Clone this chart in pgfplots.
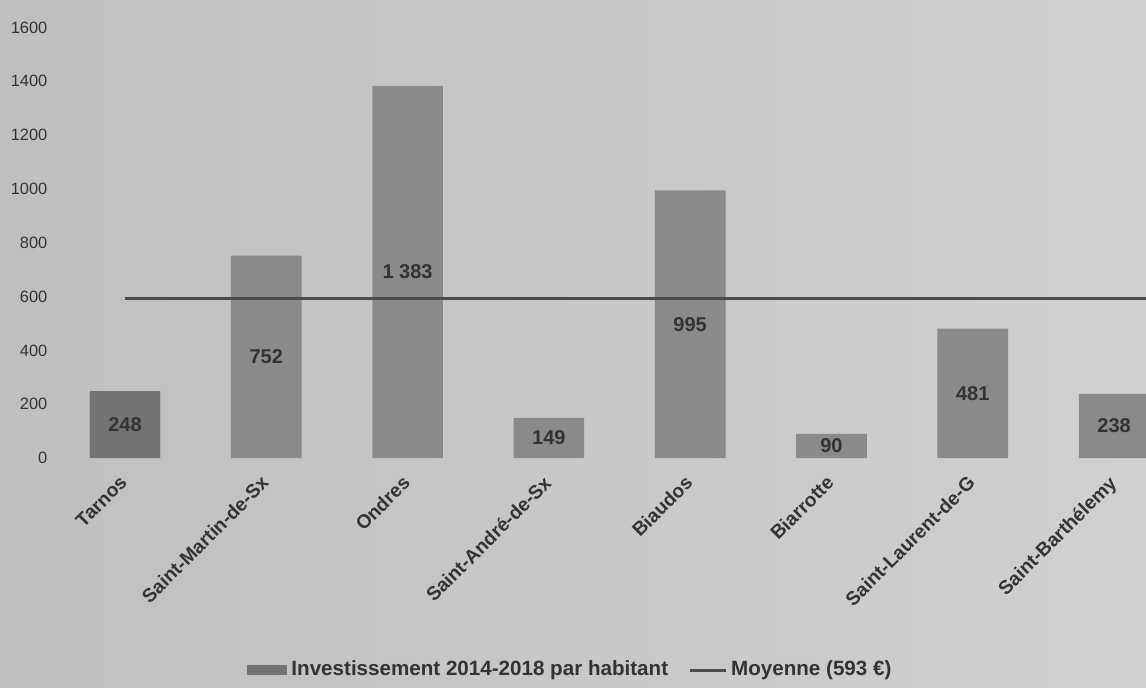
\documentclass[border=0pt]{standalone}
\usepackage{pgfplots}
\pgfplotsset{compat=1.18}
\usepackage{pgfplotstable}
\usepackage{fontspec}
\setmainfont{Liberation Sans}

% paper tones and inks
\definecolor{bgl}{HTML}{BFBFBF}
\definecolor{bgr}{HTML}{D0D0D0}
\definecolor{barc}{HTML}{8A8A8A}
\definecolor{tarnosc}{HTML}{737373}
\definecolor{linec}{HTML}{4C4C4C}
\definecolor{inkc}{HTML}{333333}

% investment 2014-2018 per inhabitant (euros)
\pgfplotstableread{
x v
0 248
1 752
2 1383
3 149
4 995
5 90
6 481
7 238
}\invest

\begin{document}
\begin{tikzpicture}
\shade[left color=bgl, right color=bgr]
  (0,0) rectangle (573pt,343.5pt);
\begin{axis}[
  at={(27.17pt,114.5pt)}, anchor=south west,
  scale only axis, width=545.83pt, height=229pt,
  xmin=-0.5, xmax=7.226, ymin=0, ymax=1702,
  axis line style={draw=none}, tick style={draw=none},
  /pgf/number format/assume math mode=true,
  ytick={0,200,...,1600},
  scaled y ticks=false,
  yticklabel style={font=\fontsize{8.2}{9}\selectfont, text=inkc,
    /pgf/number format/1000 sep={}},
  xtick={0,...,7},
  xticklabels={Tarnos, Saint-Martin-de-Sx, Ondres, Saint-André-de-Sx,
    Biaudos, Biarrotte, Saint-Laurent-de-G, Saint-Barthélemy},
  xticklabel style={rotate=45, anchor=north east, inner sep=0pt,
    font=\bfseries\fontsize{9.6}{11}\selectfont, text=inkc,
    xshift=-7.9pt, yshift=-3.4pt},
  legend style={at={(0.4737,-0.4629)}, anchor=center, draw=none, fill=none,
    font=\bfseries\fontsize{10.3}{12}\selectfont, text=inkc,
    legend columns=2,
    /tikz/every even column/.append style={column sep=8pt}},
]
\addplot[ybar, bar width=0.5, bar shift=0pt, fill=barc, draw=none,
  legend image code/.code={\fill[tarnosc] (0pt,-2.3pt) rectangle (20pt,2.3pt);}]
  table[x=x, y=v] {\invest};
\addlegendentry{Investissement 2014-2018 par habitant}
\addplot[ybar, bar width=0.5, bar shift=0pt, fill=tarnosc, draw=none,
  forget plot, restrict x to domain=-0.1:0.1]
  table[x=x, y=v] {\invest};
\addplot[linec, line width=1.5pt, mark=none,
  legend image code/.code={\draw[linec, line width=1.5pt] (0pt,0pt) -- (18pt,0pt);}]
  coordinates {(0,593) (7.6,593)};
\addlegendentry{Moyenne (593 €)}
% value labels sit halfway up each bar
\addplot[draw=none, mark=none, forget plot,
  point meta=explicit,
  nodes near coords={\pgfmathprintnumber[1000 sep={\ }]{\pgfplotspointmeta}},
  every node near coord/.append style={anchor=center, text=inkc,
    font=\bfseries\fontsize{10}{12}\selectfont}]
  table[x=x, y expr=\thisrow{v}/2, meta=v] {\invest};
\end{axis}
\pgfresetboundingbox
\path[use as bounding box] (0,0) rectangle (573pt,343.5pt);
\end{tikzpicture}
\end{document}
